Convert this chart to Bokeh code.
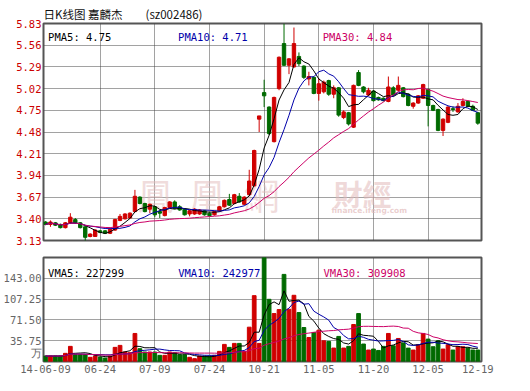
from bokeh.plotting import figure
from bokeh.layouts import column
from bokeh.models import ColumnDataSource, FixedTicker, Range1d, Label, NumeralTickFormatter
from bokeh.embed import file_html
from bokeh.resources import INLINE

# ---------------- data ----------------
opens = [3.36, 3.33, 3.35, 3.33, 3.29, 3.35, 3.39, 3.35, 3.30, 3.18,
         3.18, 3.25, 3.25, 3.22, 3.26, 3.38, 3.40, 3.41, 3.49, 3.67,
         3.59, 3.52, 3.55, 3.49, 3.44, 3.54, 3.61, 3.55, 3.52, 3.46,
         3.46, 3.46, 3.50, 3.47, 3.45, 3.50, 3.55, 3.64, 3.59, 3.68,
         3.58, 3.70, 3.81, 4.64, 4.97, 4.79, 4.36, 5.02, 5.58, 5.31,
         5.29, 5.42, 5.30, 5.14, 5.16, 4.96, 4.98, 5.12, 4.95, 5.03,
         4.66, 4.72, 4.54, 5.22, 5.04, 4.94, 4.99, 4.91, 4.90, 4.86,
         5.03, 5.00, 5.03, 4.95, 4.80, 4.84, 4.90, 5.01, 4.81, 4.76,
         4.50, 4.60, 4.77, 4.73, 4.81, 4.86, 4.80, 4.72]
highs = [3.37, 3.38, 3.36, 3.34, 3.36, 3.47, 3.41, 3.36, 3.31, 3.22,
         3.27, 3.26, 3.26, 3.28, 3.40, 3.46, 3.47, 3.48, 3.76, 3.68,
         3.60, 3.59, 3.56, 3.51, 3.55, 3.62, 3.63, 3.57, 3.53, 3.51,
         3.53, 3.52, 3.51, 3.48, 3.50, 3.56, 3.64, 3.71, 3.71, 3.72,
         3.68, 4.01, 4.26, 4.68, 5.13, 4.80, 4.92, 5.42, 5.83, 5.40,
         5.78, 5.47, 5.31, 5.23, 5.17, 5.15, 5.12, 5.13, 5.06, 5.04,
         4.75, 4.73, 5.07, 5.25, 5.05, 5.03, 5.00, 4.92, 4.91, 5.17,
         5.05, 5.17, 5.04, 4.96, 4.85, 4.94, 5.08, 5.02, 4.82, 4.77,
         4.65, 4.80, 4.80, 4.84, 4.90, 4.87, 4.82, 4.73]
lows = [3.32, 3.30, 3.31, 3.28, 3.28, 3.34, 3.34, 3.28, 3.12, 3.17,
        3.18, 3.22, 3.21, 3.21, 3.25, 3.37, 3.39, 3.40, 3.48, 3.58,
        3.48, 3.47, 3.42, 3.41, 3.43, 3.53, 3.52, 3.50, 3.44, 3.43,
        3.45, 3.45, 3.44, 3.43, 3.44, 3.49, 3.54, 3.56, 3.58, 3.60,
        3.57, 3.69, 3.80, 4.48, 4.79, 4.44, 4.35, 5.00, 5.30, 5.20,
        5.28, 5.30, 5.14, 5.06, 4.95, 4.87, 4.96, 4.93, 4.90, 4.67,
        4.64, 4.56, 4.53, 5.05, 4.96, 4.93, 4.86, 4.87, 4.86, 4.85,
        4.93, 4.99, 4.91, 4.80, 4.77, 4.83, 4.89, 4.55, 4.74, 4.49,
        4.43, 4.59, 4.73, 4.72, 4.80, 4.79, 4.74, 4.57]
closes = [3.33, 3.36, 3.32, 3.29, 3.35, 3.42, 3.35, 3.29, 3.17, 3.21,
          3.26, 3.23, 3.22, 3.27, 3.39, 3.43, 3.46, 3.47, 3.68, 3.59,
          3.49, 3.58, 3.45, 3.47, 3.54, 3.61, 3.53, 3.51, 3.45, 3.50,
          3.52, 3.51, 3.45, 3.44, 3.49, 3.55, 3.63, 3.57, 3.70, 3.61,
          3.67, 3.87, 4.25, 4.68, 4.93, 4.46, 4.91, 5.41, 5.31, 5.39,
          5.58, 5.33, 5.16, 5.17, 4.96, 5.08, 5.10, 4.95, 5.03, 4.69,
          4.73, 4.58, 5.06, 5.06, 4.98, 5.00, 4.87, 4.88, 4.87, 5.04,
          4.94, 5.06, 4.92, 4.81, 4.84, 4.93, 5.07, 4.81, 4.75, 4.50,
          4.64, 4.79, 4.76, 4.80, 4.86, 4.80, 4.75, 4.59]
# volume in units of 万 (10k lots)
volumes = [9.4, 9.4, 9.4, 9.4, 14.0, 26.0, 11.7, 11.7, 11.7, 7.2,
           9.4, 7.7, 6.0, 9.0, 24.3, 27.7, 16.3, 15.2, 48.2, 22.0,
           16.3, 16.3, 16.3, 10.6, 10.6, 16.3, 15.2, 11.7, 11.7, 7.2,
           4.9, 9.4, 9.4, 9.4, 10.6, 17.4, 29.4, 24.3, 31.1, 31.1,
           17.4, 59.0, 113.2, 31.1, 178.75, 106.9, 82.4, 89.2, 149.7, 89.8,
           113.8, 84.1, 58.4, 41.3, 49.9, 53.9, 35.6, 34.5, 23.1, 43.1,
           23.1, 26.0, 63.6, 82.4, 30.0, 19.7, 21.4, 19.0, 26.0, 48.2,
           27.0, 39.6, 32.0, 23.0, 19.7, 28.8, 48.2, 38.5, 25.4, 35.6,
           21.4, 28.8, 19.7, 25.4, 25.4, 23.1, 19.7, 19.7]

tick_idx = [0, 11, 22, 33, 44, 55, 66, 77, 87]
tick_labels = ["14-06-09", "06-24", "07-09", "07-24", "10-21", "11-05", "11-20", "12-05", "12-19"]
price_ticks = [3.13, 3.40, 3.67, 3.94, 4.21, 4.48, 4.75, 5.02, 5.29, 5.56, 5.83]
vol_ticks = [35.75, 71.50, 107.25, 143.00]
vol_max = 178.75
vol_unit = "万"
vol_unit_pos = 15.0
chart_title = "日K线图 嘉麟杰\u3000\u3000(sz002486)"
price_ma_text = ["PMA5: 4.75", "PMA10: 4.71", "PMA30: 4.84"]
vol_ma_text = ["VMA5: 227299", "VMA10: 242977", "VMA30: 309908"]

# ---------------- derived ----------------
n = len(closes)
xs = list(range(n))
UP = "#d00000"
DOWN = "#006a00"
C5, C10, C30 = "#000000", "#0000aa", "#cc0066"
MONO = "DejaVu Sans Mono"
CJK = "Noto Sans CJK SC"
FS = "10.5px"


def ma(vals, w):
    out = []
    for i in range(len(vals)):
        seg = vals[max(0, i - w + 1):i + 1]
        out.append(sum(seg) / len(seg))
    return out


def style_axis(ax, color):
    ax.axis_line_color = None
    ax.major_tick_line_color = None
    ax.minor_tick_line_color = None
    ax.major_tick_out = 0
    ax.major_tick_in = 0
    ax.minor_tick_out = 0
    ax.minor_tick_in = 0
    ax.major_label_text_font = MONO
    ax.major_label_text_font_size = FS
    ax.major_label_text_color = color


colors = [UP if c >= o else DOWN for o, c in zip(opens, closes)]
src = ColumnDataSource(dict(
    x=xs, o=opens, h=highs, l=lows, c=closes,
    top=[max(o, c) for o, c in zip(opens, closes)],
    bot=[min(o, c) for o, c in zip(opens, closes)],
    color=colors, vol=volumes,
    ma5=ma(closes, 5), ma10=ma(closes, 10), ma30=ma(closes, 30),
    vma5=ma(volumes, 5), vma10=ma(volumes, 10), vma30=ma(volumes, 30),
))

xr = Range1d(-0.4, 87.74)
GRID_KW = dict(grid_line_color="#444444", grid_line_dash="1 1", grid_line_width=1)

# ---------------- price panel ----------------
p1 = figure(width=514, height=248, x_range=xr, y_range=Range1d(price_ticks[0], price_ticks[-1]),
            output_backend="svg", toolbar_location=None,
            min_border_left=43, min_border_right=33, min_border_top=23, min_border_bottom=8)
p1.title.text = chart_title
p1.title.align = "left"
p1.title.vertical_align = "top"
p1.title.text_font = CJK
p1.title.text_font_size = "11.5px"
p1.title.text_font_style = "normal"
p1.title.text_color = "#111111"
p1.title.standoff = 0
p1.title.offset = 0
p1.xaxis.visible = False
p1.xgrid.ticker = FixedTicker(ticks=tick_idx[1:-1])
p1.yaxis.ticker = FixedTicker(ticks=price_ticks)
p1.yaxis.formatter = NumeralTickFormatter(format="0.00")
style_axis(p1.yaxis[0], "#cc0000")
p1.yaxis.major_label_standoff = 2
for g in (p1.xgrid, p1.ygrid):
    for k, v in GRID_KW.items():
        setattr(g, k, v)
p1.outline_line_color = "#555555"
p1.outline_line_width = 2

# watermark
for txt, fx in zip(["鳳", "凰", "網"], [94.0, 146.0, 200.0]):
    p1.add_layout(Label(x=fx, y=47, x_units="screen", y_units="screen", text=txt,
                        text_font="Noto Sans CJK TC", text_font_size="36px", text_color="#e2b9b9",
                        text_alpha=0.5, text_baseline="middle", level="underlay"))
p1.add_layout(Label(x=290.0, y=48, x_units="screen", y_units="screen", text="財經",
                    text_font="Noto Sans CJK TC", text_font_size="29px", text_font_style="bold",
                    text_color="#e2b9b9", text_alpha=0.55, text_baseline="middle", level="underlay"))
p1.add_layout(Label(x=288.0, y=30, x_units="screen", y_units="screen", text="finance.ifeng.com",
                    text_font="DejaVu Sans", text_font_size="7.5px", text_font_style="bold",
                    text_color="#e2b9b9", text_alpha=0.7, text_baseline="middle", level="underlay"))

p1.segment(x0="x", y0="l", x1="x", y1="h", color="color", line_width=1, source=src)
p1.vbar(x="x", width=0.68, top="top", bottom="bot", fill_color="color", line_color="color", source=src)
p1.line("x", "ma5", color=C5, line_width=1, source=src)
p1.line("x", "ma10", color=C10, line_width=1, source=src)
p1.line("x", "ma30", color=C30, line_width=1, source=src)

for txt, fx, col in zip(price_ma_text, [4.6, 134.6, 279.2], [C5, C10, C30]):
    p1.add_layout(Label(x=fx, y=203.5, x_units="screen", y_units="screen", text=txt,
                        text_font=MONO, text_font_size=FS, text_color=col,
                        text_baseline="alphabetic"))

# ---------------- volume panel ----------------
p2 = figure(width=514, height=135, x_range=xr, y_range=Range1d(0, vol_max),
            output_backend="svg", toolbar_location=None,
            min_border_left=43, min_border_right=33, min_border_top=9, min_border_bottom=22)
p2.ygrid.ticker = FixedTicker(ticks=vol_ticks)
p2.xgrid.ticker = FixedTicker(ticks=tick_idx[1:-1])
for g in (p2.xgrid, p2.ygrid):
    for k, v in GRID_KW.items():
        setattr(g, k, v)
p2.yaxis.ticker = FixedTicker(ticks=[vol_unit_pos] + vol_ticks)
p2.yaxis.formatter = NumeralTickFormatter(format="0.00")
p2.yaxis.major_label_overrides = {vol_unit_pos: vol_unit}
style_axis(p2.yaxis[0], "#666666")
p2.yaxis.major_label_standoff = 2
p2.xaxis.ticker = FixedTicker(ticks=tick_idx)
p2.xaxis.major_label_overrides = {t: s for t, s in zip(tick_idx, tick_labels)}
style_axis(p2.xaxis[0], "#666666")
p2.xaxis.major_label_standoff = 3
p2.outline_line_color = "#555555"
p2.outline_line_width = 2

p2.vbar(x="x", width=0.75, top="vol", bottom=0, fill_color="color", line_color="color", source=src)
p2.line("x", "vma5", color=C5, line_width=1, source=src)
p2.line("x", "vma10", color=C10, line_width=1, source=src)
p2.line("x", "vma30", color=C30, line_width=1, source=src)

for txt, fx, col in zip(vol_ma_text, [4.6, 134.7, 280.0], [C5, C10, C30]):
    p2.add_layout(Label(x=fx, y=89, x_units="screen", y_units="screen", text=txt,
                        text_font=MONO, text_font_size=FS, text_color=col,
                        text_baseline="alphabetic"))

layout = column(p1, p2, spacing=0)
open("out.html", "w").write(file_html(layout, INLINE))
